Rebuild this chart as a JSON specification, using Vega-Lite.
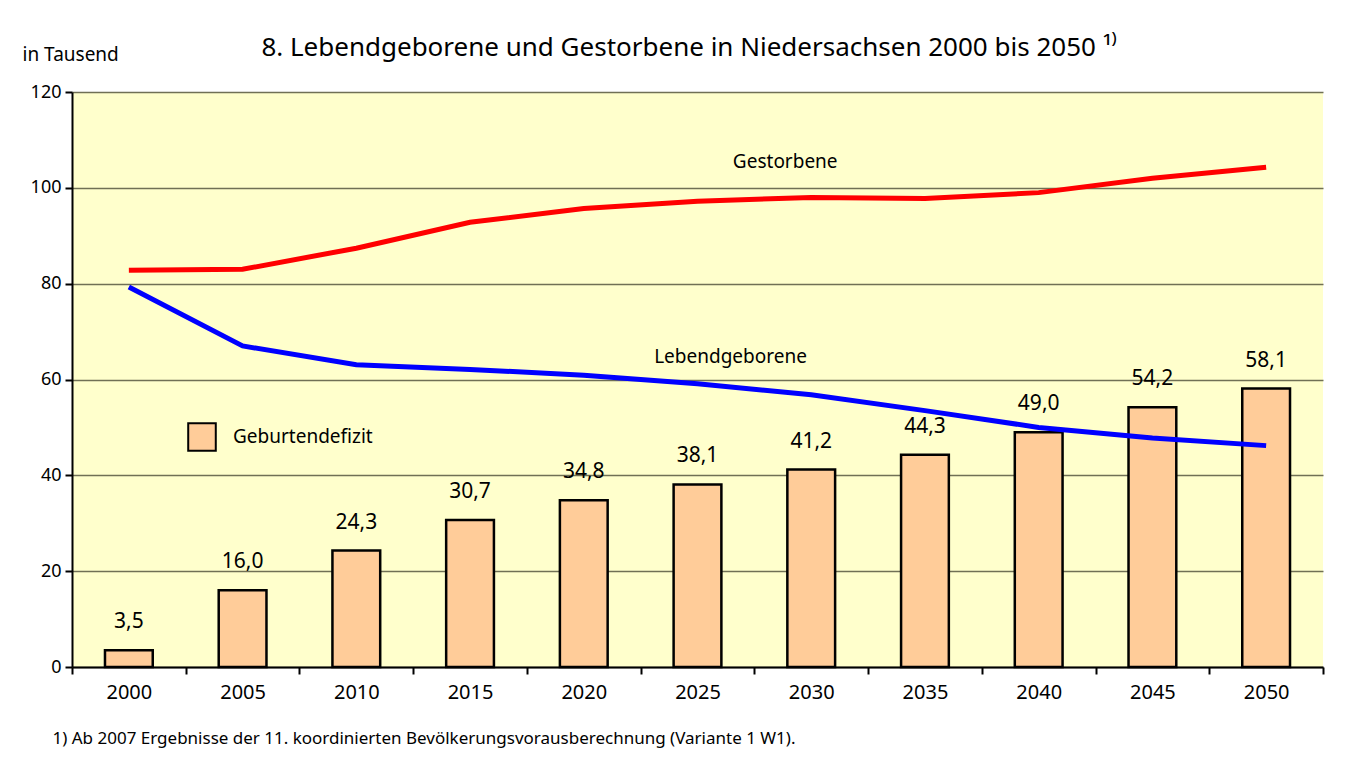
{
  "$schema": "https://vega.github.io/schema/vega-lite/v6.json",
  "width": 1251,
  "height": 575,
  "autosize": {"type": "none"},
  "padding": {"left": 72, "top": 92, "right": 28, "bottom": 91},
  "background": "white",
  "config": {
    "font": "Noto Sans",
    "locale": {"number": {"decimal": ",", "thousands": ".", "grouping": [3], "currency": ["", " €"]}},
    "view": {"fill": "#FFFFCC", "stroke": null}
  },
  "title": {
    "text": "8. Lebendgeborene und Gestorbene in Niedersachsen 2000 bis 2050 ¹⁾",
    "anchor": "middle",
    "dx": -8,
    "fontSize": 26,
    "fontWeight": "normal",
    "color": "#000000",
    "offset": -16
  },
  "data": {
    "values": [
      {"Jahr": "2000", "Geburtendefizit": 3.5, "Lebendgeborene": 79.3, "Gestorbene": 82.8},
      {"Jahr": "2005", "Geburtendefizit": 16.0, "Lebendgeborene": 67.0, "Gestorbene": 83.0},
      {"Jahr": "2010", "Geburtendefizit": 24.3, "Lebendgeborene": 63.1, "Gestorbene": 87.4},
      {"Jahr": "2015", "Geburtendefizit": 30.7, "Lebendgeborene": 62.1, "Gestorbene": 92.8},
      {"Jahr": "2020", "Geburtendefizit": 34.8, "Lebendgeborene": 60.9, "Gestorbene": 95.7},
      {"Jahr": "2025", "Geburtendefizit": 38.1, "Lebendgeborene": 59.1, "Gestorbene": 97.2},
      {"Jahr": "2030", "Geburtendefizit": 41.2, "Lebendgeborene": 56.8, "Gestorbene": 98.0},
      {"Jahr": "2035", "Geburtendefizit": 44.3, "Lebendgeborene": 53.5, "Gestorbene": 97.8},
      {"Jahr": "2040", "Geburtendefizit": 49.0, "Lebendgeborene": 50.0, "Gestorbene": 99.0},
      {"Jahr": "2045", "Geburtendefizit": 54.2, "Lebendgeborene": 47.8, "Gestorbene": 102.0},
      {"Jahr": "2050", "Geburtendefizit": 58.1, "Lebendgeborene": 46.2, "Gestorbene": 104.3}
    ]
  },
  "encoding": {
    "x": {
      "field": "Jahr",
      "type": "nominal",
      "sort": null,
      "scale": {"paddingInner": 0, "paddingOuter": 0},
      "axis": {
        "title": "1) Ab 2007 Ergebnisse der 11. koordinierten Bevölkerungsvorausberechnung (Variante 1 W1).",
        "titleFontSize": 17,
        "titleFontWeight": "normal",
        "titleColor": "#000000",
        "titleAnchor": "start",
        "titleAlign": "left",
        "titleX": -20,
        "titleY": 71,
        "titleBaseline": "middle",
        "labelAngle": 0,
        "labelFontSize": 20,
        "labelColor": "#000000",
        "labelPadding": 8,
        "tickBand": "extent",
        "tickSize": 7,
        "tickWidth": 2,
        "tickColor": "#000000",
        "domainColor": "#000000",
        "domainWidth": 2,
        "grid": false
      }
    }
  },
  "layer": [
    {
      "mark": {"type": "bar", "width": {"band": 0.42}, "stroke": "#000000", "strokeWidth": 2.5},
      "encoding": {
        "y": {
          "field": "Geburtendefizit",
          "type": "quantitative",
          "scale": {"domain": [0, 120]},
          "axis": {
            "values": [0, 20, 40, 60, 80, 100, 120],
            "title": "in Tausend",
            "titleAngle": 0,
            "titleAlign": "left",
            "titleBaseline": "alphabetic",
            "titleX": -50,
            "titleY": -32,
            "titleFontSize": 19,
            "titleFontWeight": "normal",
            "titleColor": "#000000",
            "labelFontSize": 18,
            "labelColor": "#000000",
            "labelPadding": 4,
            "tickSize": 7,
            "tickWidth": 2,
            "tickColor": "#000000",
            "domainColor": "#000000",
            "domainWidth": 2,
            "grid": true,
            "gridColor": "#707055",
            "gridWidth": 1.3
          }
        },
        "fill": {
          "datum": "Geburtendefizit",
          "scale": {"range": ["#FFCC99"]},
          "legend": {
            "title": null,
            "orient": "none",
            "legendX": 115,
            "legendY": 330,
            "padding": 0,
            "symbolType": "square",
            "symbolSize": 760,
            "symbolStrokeColor": "#000000",
            "symbolStrokeWidth": 2,
            "symbolFillColor": "#FFCC99",
            "labelFontSize": 19,
            "labelColor": "#000000",
            "labelOffset": 16
          }
        }
      }
    },
    {
      "mark": {"type": "text", "baseline": "bottom", "dy": -18, "fontSize": 21, "color": "#000000"},
      "encoding": {
        "y": {"field": "Geburtendefizit", "type": "quantitative"},
        "text": {"field": "Geburtendefizit", "type": "quantitative", "format": ".1f"}
      }
    },
    {
      "mark": {"type": "line", "color": "#FF0000", "strokeWidth": 5},
      "encoding": {"y": {"field": "Gestorbene", "type": "quantitative"}}
    },
    {
      "mark": {"type": "line", "color": "#0000FF", "strokeWidth": 5},
      "encoding": {"y": {"field": "Lebendgeborene", "type": "quantitative"}}
    },
    {
      "data": {"values": [{"Jahr": "2030", "wert": 105.4, "name": "Gestorbene"}]},
      "mark": {"type": "text", "fontSize": 19, "dx": -26, "color": "#000000"},
      "encoding": {
        "x": {"field": "Jahr", "type": "nominal"},
        "y": {"field": "wert", "type": "quantitative"},
        "text": {"field": "name"}
      }
    },
    {
      "data": {"values": [{"Jahr": "2025", "wert": 64.6, "name": "Lebendgeborene"}]},
      "mark": {"type": "text", "fontSize": 19, "dx": 33, "color": "#000000"},
      "encoding": {
        "x": {"field": "Jahr", "type": "nominal"},
        "y": {"field": "wert", "type": "quantitative"},
        "text": {"field": "name"}
      }
    }
  ]
}
